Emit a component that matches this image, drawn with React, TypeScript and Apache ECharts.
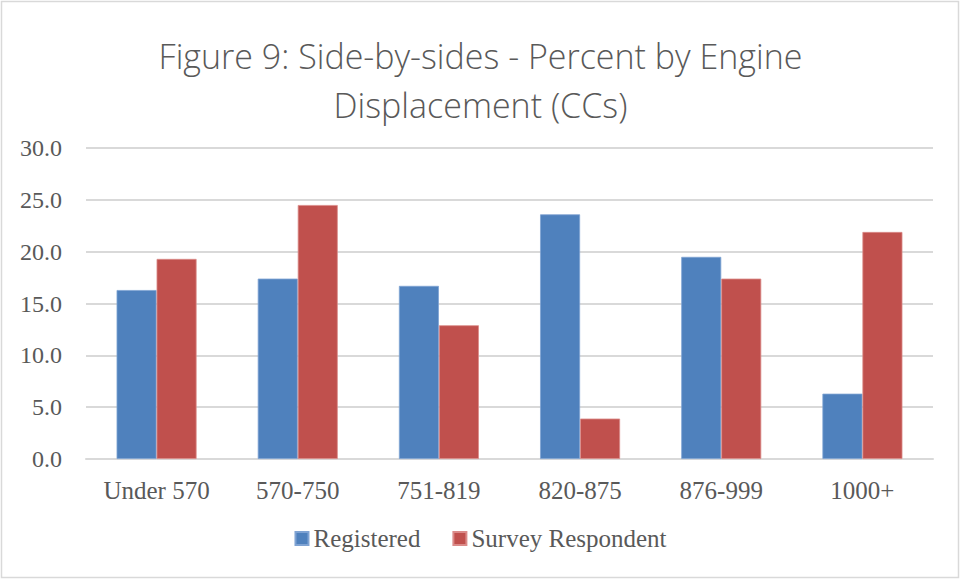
import React, { useEffect, useRef } from "react";
import * as echarts from "echarts";

const categories = ["Under 570", "570-750", "751-819", "820-875", "876-999", "1000+"];
const registered = [16.3, 17.4, 16.7, 23.6, 19.5, 6.3];
const surveyRespondent = [19.3, 24.5, 12.9, 3.9, 17.4, 21.9];
const seriesNames = ["Registered", "Survey Respondent"];
const titleText = "Figure 9: Side-by-sides - Percent by Engine\nDisplacement (CCs)";

export default function App() {
  const ref = useRef<HTMLDivElement>(null);
  useEffect(() => {
    document.body.style.margin = "0";
    const chart = echarts.init(ref.current!, null, { renderer: "svg" });
    const serif = "'Liberation Serif', 'DejaVu Serif', serif";
    chart.setOption({
      animation: false,
      backgroundColor: "#ffffff",
      title: {
        text: titleText,
        left: "center",
        top: 26,
        textStyle: {
          fontFamily: "'Open Sans', 'Noto Sans', sans-serif",
          fontWeight: 300,
          fontSize: 34,
          lineHeight: 49,
          color: "#595959",
        },
      },
      graphic: [
        {
          type: "rect",
          shape: { x: 1.5, y: 1.5, width: 957, height: 576 },
          style: { fill: "none", stroke: "#D9D9D9", lineWidth: 1.5 },
          silent: true,
        },
      ],
      grid: { left: 86, right: 28, top: 148, bottom: 121 },
      legend: {
        data: seriesNames,
        bottom: 24,
        left: "center",
        itemWidth: 13,
        itemHeight: 13,
        itemGap: 32,
        icon: "rect",
        textStyle: { fontFamily: serif, fontSize: 25, color: "#595959" },
      },
      xAxis: {
        type: "category",
        data: categories,
        axisLine: { show: true, lineStyle: { color: "#D9D9D9", width: 2 } },
        axisTick: { show: false },
        axisLabel: { fontFamily: serif, fontSize: 25, color: "#595959", margin: 19 },
      },
      yAxis: {
        type: "value",
        min: 0,
        max: 30,
        interval: 5,
        axisLine: { show: false },
        axisTick: { show: false },
        splitLine: { lineStyle: { color: "#D9D9D9", width: 2 } },
        axisLabel: {
          fontFamily: serif,
          fontSize: 24,
          color: "#595959",
          margin: 24,
          formatter: (v: number) => v.toFixed(1),
        },
      },
      series: [
        {
          name: seriesNames[0],
          type: "bar",
          data: registered,
          barWidth: 40,
          barGap: "0%",
          itemStyle: { color: "#4F81BD", borderColor: "#7FA3D3", borderWidth: 0.8 },
        },
        {
          name: seriesNames[1],
          type: "bar",
          data: surveyRespondent,
          barWidth: 40,
          barGap: "0%",
          itemStyle: { color: "#C0504D", borderColor: "#DB8B89", borderWidth: 0.8 },
        },
      ],
    });
    return () => chart.dispose();
  }, []);
  return <div ref={ref} style={{ width: 961, height: 580 }} />;
}
